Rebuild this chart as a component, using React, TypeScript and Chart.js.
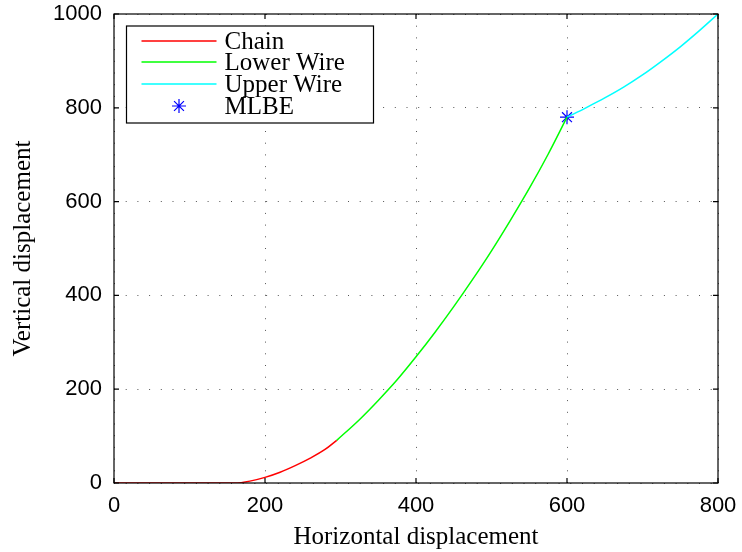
import { useEffect, useRef } from "react";
import { Chart, registerables } from "chart.js";

Chart.register(...registerables);

// Axis ticks
const xTicks = [0, 200, 400, 600, 800];
const yTicks = [0, 200, 400, 600, 800, 1000];

// Chain segment (lies on the ground, then lifts off)
const chainX = [0, 100, 160, 180, 200, 220, 240, 260, 280, 295];
const chainY = [0, 0, 0, 4, 12, 23, 37, 53, 72, 91];

// Lower wire segment
const lowerX = [295, 325, 350, 375, 400, 425, 450, 475, 500, 525, 550, 575, 600];
const lowerY = [91, 135, 176, 220, 269, 321, 376, 434, 495, 560, 628, 701, 780];

// Upper wire segment
const upperX = [600, 625, 650, 675, 700, 725, 750, 775, 800];
const upperY = [780, 800, 821, 844, 870, 899, 930, 964, 1000];

// MLBE point
const mlbeX = [600];
const mlbeY = [780];

const legendItems = [
  { label: "Chain", color: "#ff0000", kind: "line" },
  { label: "Lower Wire", color: "#00ff00", kind: "line" },
  { label: "Upper Wire", color: "#00ffff", kind: "line" },
  { label: "MLBE", color: "#0000ff", kind: "star" },
];

const toPoints = (xs: number[], ys: number[]) => xs.map((x, i) => ({ x, y: ys[i] }));

const SERIF = "'Liberation Serif', 'Times New Roman', serif";
const SANS = "'Liberation Sans', Arial, Helvetica, sans-serif";

function drawStar(ctx: CanvasRenderingContext2D, x: number, y: number, r: number) {
  const d = r * Math.SQRT1_2;
  ctx.beginPath();
  ctx.moveTo(x - r, y);
  ctx.lineTo(x + r, y);
  ctx.moveTo(x, y - r);
  ctx.lineTo(x, y + r);
  ctx.moveTo(x - d, y - d);
  ctx.lineTo(x + d, y + d);
  ctx.moveTo(x - d, y + d);
  ctx.lineTo(x + d, y - d);
  ctx.stroke();
}

// Box frame, inward tick marks and the in-plot legend
const framePlugin = {
  id: "matlabFrame",
  afterDraw(chart: any) {
    const { ctx, chartArea } = chart;
    const { left, right, top, bottom } = chartArea;
    const xs = chart.scales.x;
    const ys = chart.scales.y;
    ctx.save();
    ctx.strokeStyle = "#000";
    ctx.lineWidth = 1.2;
    ctx.setLineDash([]);
    ctx.strokeRect(left, top, right - left, bottom - top);
    const tl = 5;
    ctx.beginPath();
    xTicks.forEach((v) => {
      const px = xs.getPixelForValue(v);
      ctx.moveTo(px, bottom);
      ctx.lineTo(px, bottom - tl);
      ctx.moveTo(px, top);
      ctx.lineTo(px, top + tl);
    });
    yTicks.forEach((v) => {
      const py = ys.getPixelForValue(v);
      ctx.moveTo(left, py);
      ctx.lineTo(left + tl, py);
      ctx.moveTo(right, py);
      ctx.lineTo(right - tl, py);
    });
    ctx.stroke();

    // legend
    const bx = left + 12.5;
    const by = top + 12;
    const bw = 247;
    const bh = 97;
    ctx.fillStyle = "#fff";
    ctx.fillRect(bx, by, bw, bh);
    ctx.lineWidth = 1.2;
    ctx.strokeStyle = "#000";
    ctx.strokeRect(bx, by, bw, bh);
    const rows = [27, 48, 70, 92];
    ctx.font = `25px ${SERIF}`;
    ctx.textBaseline = "middle";
    ctx.textAlign = "left";
    legendItems.forEach((it, i) => {
      const y = top + rows[i];
      ctx.strokeStyle = it.color;
      if (it.kind === "line") {
        ctx.lineWidth = 1.5;
        ctx.beginPath();
        ctx.moveTo(bx + 15, y);
        ctx.lineTo(bx + 90, y);
        ctx.stroke();
      } else {
        ctx.lineWidth = 1.2;
        drawStar(ctx, bx + 52.5, y, 7);
      }
      ctx.fillStyle = "#000";
      ctx.fillText(it.label, bx + 98, y + 1);
    });
    ctx.restore();
  },
};

export default function App() {
  const canvasRef = useRef<HTMLCanvasElement | null>(null);

  useEffect(() => {
    if (!canvasRef.current) return;
    const lineStyle = {
      borderWidth: 1.5,
      pointRadius: 0,
      cubicInterpolationMode: "monotone",
    };
    const chart = new Chart(canvasRef.current, {
      type: "line",
      data: {
        datasets: [
          { label: "Chain", data: toPoints(chainX, chainY), borderColor: "#ff0000", ...lineStyle },
          { label: "Lower Wire", data: toPoints(lowerX, lowerY), borderColor: "#00ff00", ...lineStyle },
          { label: "Upper Wire", data: toPoints(upperX, upperY), borderColor: "#00ffff", ...lineStyle },
          {
            label: "MLBE",
            data: toPoints(mlbeX, mlbeY),
            showLine: false,
            borderColor: "#0000ff",
            backgroundColor: "#0000ff",
            pointStyle: "star",
            pointRadius: 7,
            pointBorderWidth: 1.2,
          },
        ],
      },
      options: {
        animation: false,
        responsive: true,
        maintainAspectRatio: false,
        layout: { padding: { left: 0, top: 14, right: 24, bottom: 0 } },
        plugins: {
          legend: { display: false },
          tooltip: { enabled: false },
        },
        scales: {
          x: {
            type: "linear",
            min: 0,
            max: 800,
            afterBuildTicks: (s: any) => {
              s.ticks = xTicks.map((v) => ({ value: v }));
            },
            afterFit: (s: any) => {
              s.height = 69;
              s.paddingLeft = 0;
              s.paddingRight = 0;
            },
            ticks: {
              color: "#000",
              font: { family: SANS, size: 22 },
              padding: 10,
              maxRotation: 0,
              callback: (v: any) => String(v),
            },
            grid: {
              color: "#555",
              lineWidth: 1,
              drawTicks: false,
            },
            border: { display: false, dash: [1, 10.7] },
            title: {
              display: true,
              text: "Horizontal displacement",
              color: "#000",
              font: { family: SERIF, size: 25 },
              padding: { top: 0, bottom: 0 },
            },
          },
          y: {
            type: "linear",
            min: 0,
            max: 1000,
            afterBuildTicks: (s: any) => {
              s.ticks = yTicks.map((v) => ({ value: v }));
            },
            afterFit: (s: any) => {
              s.width = 114;
              s.paddingTop = 0;
              s.paddingBottom = 0;
            },
            ticks: {
              color: "#000",
              font: { family: SANS, size: 22 },
              padding: 12,
              callback: (v: any) => String(v),
            },
            grid: {
              color: "#555",
              lineWidth: 1,
              drawTicks: false,
            },
            border: { display: false, dash: [1, 10.7] },
            title: {
              display: true,
              text: "Vertical displacement",
              color: "#000",
              font: { family: SERIF, size: 25 },
              padding: { top: 8, bottom: 0 },
            },
          },
        },
      },
      plugins: [framePlugin],
    } as any);
    return () => chart.destroy();
  }, []);

  return (
    <div style={{ position: "absolute", left: 0, top: 0, width: 742, height: 552, background: "#fff" }}>
      <canvas ref={canvasRef} />
    </div>
  );
}
